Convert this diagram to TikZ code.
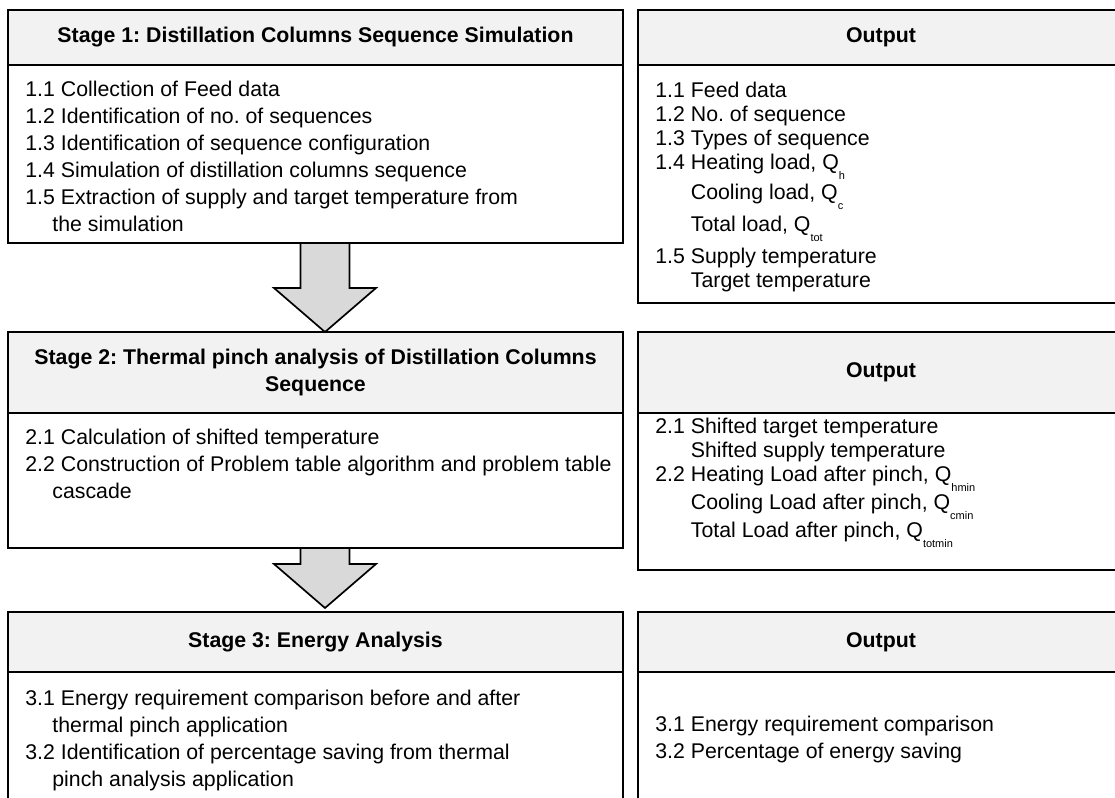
\documentclass[tikz,border=0pt]{standalone}
\usepackage{fontspec}
\setmainfont{Liberation Sans}
\usepackage{tikz}
\usetikzlibrary{positioning,calc}
\definecolor{headgray}{HTML}{F2F2F2}
\definecolor{arrowgray}{HTML}{D9D9D9}
\newcommand{\qsub}[1]{Q\raisebox{-4.7pt}[0pt][0pt]{\fontsize{5.5}{5.5}\selectfont #1}}
\newcommand{\outind}{\phantom{1.4}\ }
\newcommand{\stind}{\hspace*{13.5pt}}
\frenchspacing

\begin{document}
\begin{tikzpicture}[x=0.5pt,y=-0.5pt,
    headbox/.style={draw,line width=1.25pt,fill=headgray,inner sep=0pt,outer sep=0pt,align=center,font=\fontsize{10.65}{13.5}\selectfont\bfseries},
    bodybox/.style={draw,line width=1.25pt,inner sep=0pt,outer sep=0pt},
    steptext/.style={anchor=north west,inner sep=0pt,align=left,font=\fontsize{10.65}{13.5}\selectfont},
    outtext/.style={steptext,font=\fontsize{10.65}{12}\selectfont},
    blockarrow/.style={draw,line width=0.85pt,fill=arrowgray,line join=miter}]
  \useasboundingbox (0,0) rectangle (1115,798);
  \clip (0,0) rectangle (1115,798);
  % stages
  \node[headbox,minimum width=307.5pt,minimum height=27.5pt,anchor=north west] (s1h) at (8,10) {Stage 1: Distillation Columns Sequence Simulation};
  \node[bodybox,minimum width=307.5pt,minimum height=89pt,below=0pt of s1h] (s1b) {};
  \node[headbox,minimum width=307.5pt,minimum height=40.5pt,below=44.5pt of s1b] (s2h) {Stage 2: Thermal pinch analysis of Distillation Columns\\Sequence};
  \node[bodybox,minimum width=307.5pt,minimum height=67.5pt,below=0pt of s2h] (s2b) {};
  \node[headbox,minimum width=307.5pt,minimum height=30pt,below=32pt of s2b] (s3h) {Stage 3: Energy Analysis};
  \node[bodybox,minimum width=307.5pt,minimum height=75pt,below=0pt of s3h] (s3b) {};
  % outputs
  \node[headbox,minimum width=243pt,minimum height=27.5pt,right=7.5pt of s1h] (o1h) {Output};
  \node[bodybox,minimum width=243pt,minimum height=119pt,below=0pt of o1h] (o1b) {};
  \node[headbox,minimum width=243pt,minimum height=40.5pt,right=7.5pt of s2h] (o2h) {Output};
  \node[bodybox,minimum width=243pt,minimum height=78.5pt,below=0pt of o2h] (o2b) {};
  \node[headbox,minimum width=243pt,minimum height=30pt,right=7.5pt of s3h] (o3h) {Output};
  \node[bodybox,minimum width=243pt,minimum height=75pt,below=0pt of o3h] (o3b) {};
  % texts
  \node[steptext] (s1t) at ($(s1b.north west)+(17,16)$) {1.1 Collection of Feed data\\
    1.2 Identification of no. of sequences\\
    1.3 Identification of sequence configuration\\
    1.4 Simulation of distillation columns sequence\\
    1.5 Extraction of supply and target temperature from\\
    \stind the simulation};
  \node[steptext] (s2t) at ($(s2b.north west)+(17,16)$) {2.1 Calculation of shifted temperature\\
    2.2 Construction of Problem table algorithm and problem table\\
    \stind cascade};
  \node[steptext] (s3t) at ($(s3b.north west)+(17,18)$) {3.1 Energy requirement comparison before and after\\
    \stind thermal pinch application\\
    3.2 Identification of percentage saving from thermal\\
    \stind pinch analysis application};
  \node[outtext] (o1t) at ($(o1b.north west)+(17,17)$) {1.1 Feed data\\
    1.2 No. of sequence\\
    1.3 Types of sequence\\
    1.4 Heating load, \qsub{h}\\[3pt]
    \outind Cooling load, \qsub{c}\\[4pt]
    \outind Total load, \qsub{tot}\\[4pt]
    1.5 Supply temperature\\
    \outind Target temperature};
  \node[outtext] (o2t) at ($(o2b.north west)+(17,5)$) {2.1 Shifted target temperature\\
    \outind Shifted supply temperature\\
    2.2 Heating Load after pinch, \qsub{hmin}\\[2pt]
    \outind Cooling Load after pinch, \qsub{cmin}\\[2pt]
    \outind Total Load after pinch, \qsub{totmin}};
  \node[steptext] (o3t) at ($(o3b.north west)+(17,44)$) {3.1 Energy requirement comparison\\
    3.2 Percentage of energy saving};
  % block arrows
  \foreach \a/\b/\g in {s1b/s2h/0,s2b/s3h/4}{
    \coordinate (top) at ($(\a.south)+(9.5,0)$);
    \coordinate (tip) at ($(\b.north)+(9.5,-\g)$);
    \draw[blockarrow] ($(top)+(-24.5,0)$) -- ($(top)+(24.5,0)$) -- ($(tip)+(24.5,-44)$) -- ($(tip)+(51,-44)$)
      -- (tip) -- ($(tip)+(-51,-44)$) -- ($(tip)+(-24.5,-44)$) -- cycle;
  }
\end{tikzpicture}
\end{document}
